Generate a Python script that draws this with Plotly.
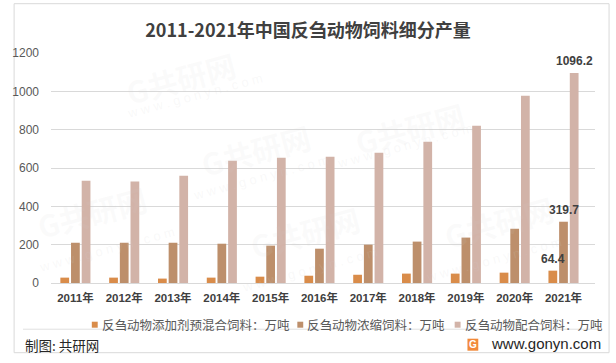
import plotly.graph_objects as go

years = ["2011年", "2012年", "2013年", "2014年", "2015年", "2016年",
         "2017年", "2018年", "2019年", "2020年", "2021年"]
premix = [28, 28, 23, 28, 33, 38, 43, 49, 49, 54, 64.4]
concentrate = [210, 210, 210, 205, 195, 179, 200, 216, 237, 283, 319.7]
compound = [534, 529, 560, 638, 654, 659, 680, 737, 821, 977, 1096.2]
series_names = ["反刍动物添加剂预混合饲料：万吨", "反刍动物浓缩饲料：万吨", "反刍动物配合饲料：万吨"]
colors = ["#D98C4A", "#BD8F6B", "#D2B3A8"]
y_ticks = [0, 200, 400, 600, 800, 1000, 1200]

W, H = 616, 363
L, R, T, B = 41.5, 21.3, 53.3, 79.7
PW, PH = W - L - R, H - T - B


def px(x):
    return (x - L) / PW


def py(y):
    return (H - B - y) / PH


FONT = "Liberation Sans, Noto Sans CJK SC, sans-serif"
CJK = "Noto Sans CJK SC, Liberation Sans, sans-serif"

fig = go.Figure()
for name, vals, col in zip(series_names, [premix, concentrate, compound], colors):
    fig.add_trace(go.Bar(
        x=years, y=vals, name=name, marker=dict(color=col, line=dict(width=0)),
        showlegend=False,
    ))

shapes = []
annotations = []

# value labels for last year (drawn on top of all bars)
for vals, shift in zip([premix, concentrate, compound], [-11, 0, 11]):
    annotations.append(dict(xref="x", yref="y", x=years[-1], y=vals[-1], xshift=shift, yshift=12,
                            text="<b>%g</b>" % vals[-1], showarrow=False, xanchor="center", yanchor="middle",
                            font=dict(family=FONT, size=12, color="#404040")))

# outer border and separator
shapes.append(dict(type="rect", xref="paper", yref="paper", x0=px(4), x1=px(609), y0=py(4), y1=py(353),
                   line=dict(color="#D9D9D9", width=1), fillcolor="rgba(0,0,0,0)", layer="below"))
shapes.append(dict(type="line", xref="paper", yref="paper", x0=px(13), x1=px(600), y0=py(329.5), y1=py(329.5),
                   line=dict(color="#E0E0E0", width=1)))

# watermarks
for (wx, wy) in [(110, 40), (250, 150), (300, 270), (470, 90), (560, 260), (20, 250)]:
    annotations.append(dict(xref="paper", yref="paper", x=px(wx), y=py(wy), text="<b>G共研网</b>",
                            showarrow=False, textangle=-15,
                            font=dict(family=CJK, size=30, color="rgba(210,210,210,0.10)")))
    annotations.append(dict(xref="paper", yref="paper", x=px(wx + 5), y=py(wy + 28), text="w w w . g o n y n . c o m",
                            showarrow=False, textangle=-15,
                            font=dict(family=FONT, size=13, color="rgba(210,210,210,0.14)")))

# legend (manual)
legend_x = [83, 292, 452]
for lx, name, col in zip(legend_x, series_names, colors):
    shapes.append(dict(type="rect", xref="paper", yref="paper", x0=px(lx), x1=px(lx + 6),
                       y0=py(322), y1=py(328), fillcolor=col, line=dict(width=0)))
    annotations.append(dict(xref="paper", yref="paper", x=px(lx + 8), y=py(325), xanchor="left",
                            yanchor="middle", text=name, showarrow=False,
                            font=dict(family=CJK, size=12.5, color="#595959")))

# footer
annotations.append(dict(xref="paper", yref="paper", x=px(13), y=py(345), xanchor="left", yanchor="middle",
                        text="制图: 共研网", showarrow=False,
                        font=dict(family=CJK, size=13.5, color="#262626")))
annotations.append(dict(xref="paper", yref="paper", x=px(487), y=py(344), xanchor="left", yanchor="middle",
                        text="www.gonyn.com", showarrow=False,
                        font=dict(family=FONT, size=15, color="#262626")))
shapes.append(dict(type="rect", xref="paper", yref="paper", x0=px(465), x1=px(476), y0=py(339), y1=py(351),
                   fillcolor="#F28A3A", line=dict(width=0)))
annotations.append(dict(xref="paper", yref="paper", x=px(470.5), y=py(345), xanchor="center", yanchor="middle",
                        text="<b>G</b>", showarrow=False,
                        font=dict(family=FONT, size=10, color="white")))

fig.update_layout(
    width=W, height=H,
    margin=dict(l=L, r=R, t=T, b=B, pad=0),
    paper_bgcolor="white", plot_bgcolor="white",
    barmode="group", bargap=0.344, bargroupgap=0.18,
    title=dict(text="<b>2011-2021年中国反刍动物饲料细分产量</b>", x=0.5, xref="container", xanchor="center",
               y=1 - 31 / H, yanchor="middle",
               font=dict(family=CJK, size=18, color="#404040")),
    xaxis=dict(showgrid=False, showline=True, linecolor="#D9D9D9", linewidth=1, ticks="",
               tickfont=dict(family=FONT, size=11.5, color="#404040", weight="bold"),
               ticklabelstandoff=4, fixedrange=True),
    yaxis=dict(range=[0, 1200], tickvals=y_ticks, showgrid=True, gridcolor="#D9D9D9", gridwidth=1,
               zeroline=False, showline=False, ticks="",
               tickfont=dict(family=FONT, size=12, color="#595959"),
               ticklabelstandoff=11, fixedrange=True),
    shapes=shapes, annotations=annotations,
    font=dict(family=CJK),
)

fig.write_html("out.html")
